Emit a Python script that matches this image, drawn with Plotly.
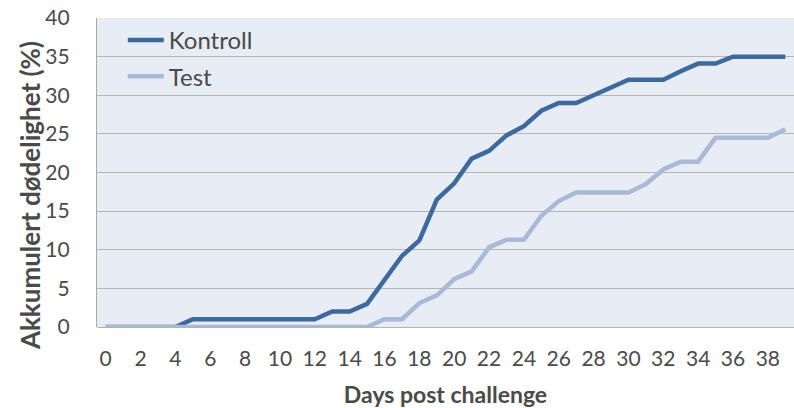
import plotly.graph_objects as go

days = list(range(40))
kontroll = [0, 0, 0, 0, 0, 1.0, 1.0, 1.0, 1.0, 1.0,
            1.0, 1.0, 1.0, 2.0, 2.0, 3.0, 6.1, 9.2, 11.2, 16.5,
            18.6, 21.8, 22.8, 24.8, 26.0, 28.0, 29.0, 29.0, 30.0, 31.0,
            32.0, 32.0, 32.0, 33.1, 34.1, 34.1, 35.0, 35.0, 35.0, 35.0]
test = [0, 0, 0, 0, 0, 0, 0, 0, 0, 0,
        0, 0, 0, 0, 0, 0, 1.0, 1.0, 3.1, 4.1,
        6.2, 7.2, 10.3, 11.3, 11.3, 14.4, 16.3, 17.4, 17.4, 17.4,
        17.4, 18.5, 20.4, 21.4, 21.4, 24.5, 24.5, 24.5, 24.5, 25.6]
tick_days = list(range(0, 40, 2))

font = "Lato, 'Open Sans', sans-serif"
grey_text = "#4a4a4a"

fig = go.Figure()
fig.add_trace(go.Scatter(x=days, y=kontroll, name="Kontroll", mode="lines",
                         legendgroup="k",
                         line=dict(color="#3d6a9e", width=4.5)))
fig.add_trace(go.Scatter(x=days, y=test, name="Test", mode="lines",
                         legendgroup="t",
                         line=dict(color="#a9bad6", width=4.5)))

fig.update_layout(
    width=794, height=408,
    margin=dict(l=97, r=0, t=18, b=81),
    paper_bgcolor="white",
    plot_bgcolor="#e8ecf4",
    font=dict(family=font, color=grey_text, size=20),
    showlegend=True,
    legend=dict(x=0.037, y=1.0, xanchor="left", yanchor="top",
                bgcolor="rgba(0,0,0,0)", font=dict(size=24, color=grey_text),
                itemwidth=36, tracegroupgap=2),
)
fig.update_xaxes(
    range=[-0.5, 39.5],
    tickvals=tick_days,
    ticktext=[str(d) for d in tick_days],
    showgrid=False, zeroline=False,
    showline=False, automargin=False,
    ticks="", ticklabelstandoff=17,
    tickfont=dict(size=21, color=grey_text),
    title=dict(text="<b>Days post challenge</b>", standoff=17,
               font=dict(size=23, color=grey_text)),
)
fig.update_yaxes(
    range=[0, 40], dtick=5,
    showgrid=True, gridcolor="#b4b4b4", gridwidth=1.3,
    zeroline=True, zerolinecolor="#b4b4b4", zerolinewidth=1.3,
    showline=True, linecolor="#a8a8a8", linewidth=1.3,
    automargin=False,
    ticks="", ticklabelstandoff=22,
    tickfont=dict(size=21, color=grey_text),
)
# y title as a rotated annotation so it sits a bit below the axis centre, like the original
fig.add_annotation(
    text="<b>Akkumulert dødelighet (%)</b>", textangle=-90,
    xref="paper", yref="paper", x=-0.096, y=0.424,
    xanchor="center", yanchor="middle", showarrow=False,
    font=dict(size=26, color=grey_text),
)

fig.write_html("out.html", config={"displayModeBar": False},
               post_script="document.body.style.margin='0';")
